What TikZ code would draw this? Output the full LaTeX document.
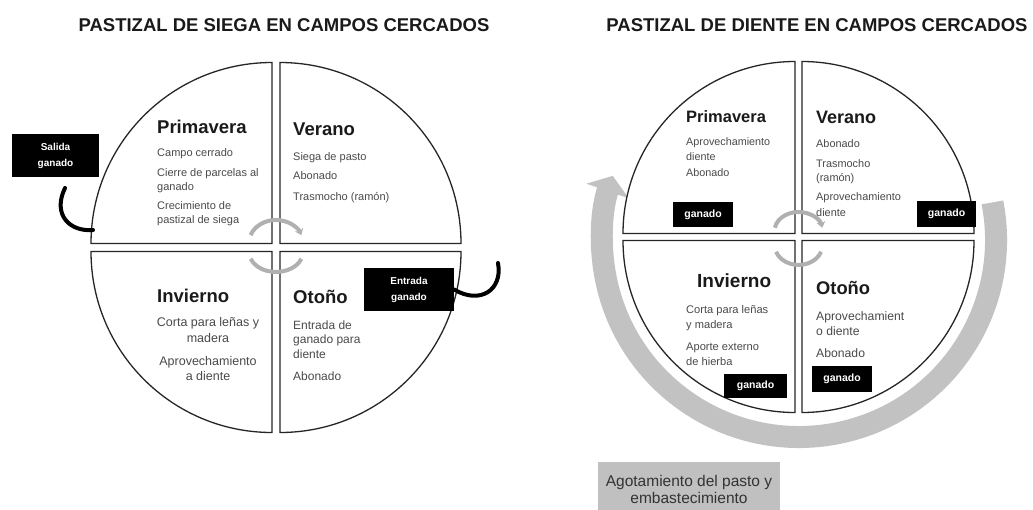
\documentclass[tikz,border=0pt]{standalone}
\usepackage{fontspec}
\setmainfont{Liberation Sans}
\usetikzlibrary{arrows.meta}
\definecolor{hd}{HTML}{1A1A1A}
\definecolor{bd}{HTML}{4A4A4A}
\definecolor{arcg}{HTML}{B0B0B0}
\definecolor{bandg}{HTML}{C2C2C2}
\definecolor{boxg}{HTML}{C0C0C0}
\newcommand{\myfs}[2]{\fontsize{#1}{#2}\selectfont}
\begin{document}
\begin{tikzpicture}[x=1pt,y=-1pt,
  quad/.style={draw=black!85, line width=1.3pt, fill=white},
  ttl/.style={font=\myfs{18.5}{22}\bfseries, text=hd, anchor=base, inner sep=0pt},
  head/.style={font=\myfs{#1}{#1}\bfseries, text=hd, anchor=base west, inner sep=0pt},
  body/.style={font=\myfs{#1}{#1}, text=bd, anchor=base west, inner sep=0pt},
  bodyc/.style={font=\myfs{#1}{#1}, text=bd, anchor=base, inner sep=0pt},
  bbox/.style={fill=black, text=white, font=\myfs{10}{16}\bfseries, align=center, inner sep=0pt},
  gbox/.style={fill=black, text=white, font=\myfs{10.5}{12}\bfseries, inner sep=0pt},
  bcurve/.style={line width=4pt, line cap=round},
  carc/.style={draw=arcg, line width=4pt},
  band/.style={draw=bandg, line width=22pt},
  agot/.style={fill=boxg, text=black!80, font=\myfs{15.5}{17}, align=center, inner xsep=0pt, inner ysep=13pt, minimum width=182pt, anchor=north}
]
\useasboundingbox[fill=white] (0,0) rectangle (1033,509);

% titles
\node[ttl] (t1) at (284,31) {PASTIZAL DE SIEGA EN CAMPOS CERCADOS};
\node[ttl] (t2) at (817,31) {PASTIZAL DE DIENTE EN CAMPOS CERCADOS};

% ---------- left diagram quadrants ----------
\begin{scope}[shift={(276,247.5)}]
\draw[quad] (-4,-4) -- (-4,-185) arc[start angle=270,end angle=180,radius=181] -- cycle;
\draw[quad] (4,-4) -- (4,-185) arc[start angle=270,end angle=360,radius=181] -- cycle;
\draw[quad] (4,4) -- (185,4) arc[start angle=0,end angle=90,radius=181] -- cycle;
\draw[quad] (-4,4) -- (-4,185) arc[start angle=90,end angle=180,radius=181] -- cycle;
\end{scope}

% left texts
\node[head=18.5] (lph) at (157,133) {Primavera};
\node[body=11] (lp1) at (157,156.5) {Campo cerrado};
\node[body=11] (lp2) at (157,176.5) {Cierre de parcelas al};
\node[body=11] (lp3) at (157,190.5) {ganado};
\node[body=11] (lp4) at (157,209.5) {Crecimiento de};
\node[body=11] (lp5) at (157,223.5) {pastizal de siega};

\node[head=18.5] (lvh) at (293,135) {Verano};
\node[body=11] (lv1) at (293,160.5) {Siega de pasto};
\node[body=11] (lv2) at (293,179.5) {Abonado};
\node[body=11] (lv3) at (293,200.5) {Trasmocho (ramón)};

\node[head=18.5] (lih) at (157,302) {Invierno};
\node[bodyc=12.5] (li1) at (208,326.5) {Corta para leñas y};
\node[bodyc=12.5] (li2) at (208,342.5) {madera};
\node[bodyc=12.5] (li3) at (208,365.5) {Aprovechamiento};
\node[bodyc=12.5] (li4) at (208,380.5) {a diente};

\node[head=18.5] (loh) at (293,303) {Otoño};
\node[body=12] (lo1) at (293,329.5) {Entrada de};
\node[body=12] (lo2) at (293,343.5) {ganado para};
\node[body=12] (lo3) at (293,358) {diente};
\node[body=12] (lo4) at (293,380) {Abonado};

% left center arcs
\draw[carc,-{Stealth[length=6pt,width=9pt]}] (250.6,235.1) arc[start angle=200,end angle=340,x radius=27,y radius=23];
\draw[carc] (301.4,258.8) arc[start angle=20,end angle=160,x radius=27,y radius=20];

% left boxes and curves
\node[bbox, minimum width=87pt, minimum height=43pt] (sal) at (55.5,155.5) {Salida\\ganado};
\node[bbox, minimum width=90pt, minimum height=43pt] (ent) at (409,289.5) {Entrada\\ganado};
\coordinate (s1) at (65,188);
\coordinate (s2) at (93,230);
\coordinate (e2) at (498,263);
\draw[bcurve] (s1) .. controls (52,215) and (70,232) .. (s2);
\draw[bcurve] (ent.east) .. controls (480,305) and (503,290) .. (e2);

% ---------- right diagram ----------
\draw[band,-{Triangle[width=44pt,length=16pt]}] (992.4,202.4) arc[start angle=-11,end angle=199,radius=197];

\begin{scope}[shift={(798.5,237)}]
\draw[quad] (-3.5,-3.5) -- (-3.5,-175.5) arc[start angle=270,end angle=180,radius=172] -- cycle;
\draw[quad] (3.5,-3.5) -- (3.5,-175.5) arc[start angle=270,end angle=360,radius=172] -- cycle;
\draw[quad] (3.5,3.5) -- (175.5,3.5) arc[start angle=0,end angle=90,radius=172] -- cycle;
\draw[quad] (-3.5,3.5) -- (-3.5,175.5) arc[start angle=90,end angle=180,radius=172] -- cycle;
\end{scope}

\node[head=16.5] (rph) at (686,122) {Primavera};
\node[body=10.8] (rp1) at (686,145.5) {Aprovechamiento};
\node[body=10.8] (rp2) at (686,160.5) {diente};
\node[body=10.8] (rp3) at (686,176.5) {Abonado};

\node[head=18] (rvh) at (816,123) {Verano};
\node[body=10.9] (rv1) at (816,147.5) {Abonado};
\node[body=10.9] (rv2) at (816,167.5) {Trasmocho};
\node[body=10.9] (rv3) at (816,181.5) {(ramón)};
\node[body=10.9] (rv4) at (816,200.5) {Aprovechamiento};
\node[body=10.9] (rv5) at (816,216.5) {diente};

\node[head=19] (rih) at (697,287) {Invierno};
\node[body=11.1] (ri1) at (686,313.5) {Corta para leñas};
\node[body=11.1] (ri2) at (686,328.5) {y madera};
\node[body=11.1] (ri3) at (686,350.5) {Aporte externo};
\node[body=11.1] (ri4) at (686,365.5) {de hierba};

\node[head=18.3] (roh) at (816,294) {Otoño};
\node[body=12.2] (ro1) at (816,320.5) {Aprovechamient};
\node[body=12.2] (ro2) at (816,335.5) {o diente};
\node[body=12.2] (ro3) at (816,357.5) {Abonado};

\node[gbox, minimum width=60pt, minimum height=25pt] (g1) at (703,214.5) {ganado};
\node[gbox, minimum width=59pt, minimum height=26pt] (g2) at (946.5,214) {ganado};
\node[gbox, minimum width=63pt, minimum height=24pt] (g3) at (755.5,386) {ganado};
\node[gbox, minimum width=60pt, minimum height=26pt] (g4) at (842,379) {ganado};

% right center arcs
\draw[carc,-{Stealth[length=6pt,width=9pt]}] (774.9,227.7) arc[start angle=190,end angle=350,x radius=24,y radius=19];
\draw[carc] (821.1,251.8) arc[start angle=20,end angle=160,x radius=24,y radius=20];

% bottom box
\node[agot] (ag) at (689,462) {Agotamiento del pasto y\\embastecimiento};
\end{tikzpicture}
\end{document}
